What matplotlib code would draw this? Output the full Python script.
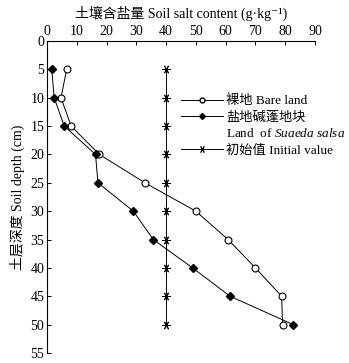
import matplotlib
matplotlib.use("Agg")
import matplotlib.pyplot as plt
from matplotlib.lines import Line2D

plt.rcParams['font.family'] = ['Liberation Serif', 'Noto Sans CJK SC', 'DejaVu Serif']
plt.rcParams['mathtext.fontset'] = 'custom'
plt.rcParams['mathtext.rm'] = 'Liberation Serif'
plt.rcParams['mathtext.it'] = 'Liberation Serif:italic'

depth = [5, 10, 15, 20, 25, 30, 35, 40, 45, 50]
bare_land = [6.6, 4.7, 8.1, 17.6, 32.9, 50.0, 60.8, 70.0, 78.8, 79.1]
suaeda = [1.6, 2.4, 5.8, 16.3, 17.1, 29.0, 35.7, 48.9, 61.5, 82.7]
initial = [40, 40, 40, 40, 40, 40, 40, 40, 40, 40]
xticks = [0, 10, 20, 30, 40, 50, 60, 70, 80, 90]
yticks = [0, 5, 10, 15, 20, 25, 30, 35, 40, 45, 50, 55]

fig = plt.figure(figsize=(3.49, 3.63), dpi=100)
ax = fig.add_axes([47/349, 1-353/363, 268/349, 312/363])

lw = 0.7
ax.plot(initial, depth, color='black', lw=lw, marker=(6, 2, 90), ms=6, mew=0.7)
ax.plot(bare_land, depth, color='black', lw=lw, marker='o', ms=5, mfc='white', mec='black', mew=0.8)
ax.plot(suaeda, depth, color='black', lw=lw, marker='D', ms=4.3, mfc='black', mec='black')

ax.set_xlim(0, 90)
ax.set_ylim(55, 0)
ax.set_xticks(xticks)
ax.set_yticks(yticks)
ax.xaxis.tick_top()
ax.xaxis.set_label_position('top')
ax.tick_params(direction='in', length=3, width=0.7, labelsize=10, pad=2)
for s in ['right', 'bottom']:
    ax.spines[s].set_visible(False)
for s in ['top', 'left']:
    ax.spines[s].set_linewidth(0.8)

ax.set_xlabel('土壤含盐量 Soil salt content (g·kg⁻¹)', fontsize=10, labelpad=5)
ax.set_ylabel('土层深度 Soil depth (cm)', fontsize=10, labelpad=4)

handles = [
    Line2D([], [], color='black', lw=lw, marker='o', ms=3.5, mfc='white', mec='black'),
    Line2D([], [], color='black', lw=lw, marker='D', ms=3, mfc='black'),
    Line2D([], [], linestyle='none'),
    Line2D([], [], color='black', lw=lw, marker=(6, 2, 90), ms=5, mew=0.7),
]
labels = ['裸地 Bare land', '盐地碱蓬地块', 'Land  of $\\it{Suaeda\\ salsa}$', '初始值 Initial value']
leg = ax.legend(handles, labels, loc='upper left', bbox_to_anchor=(0.48, 0.845),
                frameon=False, fontsize=9.5, handlelength=3.2, handletextpad=0.2,
                labelspacing=0.3, borderaxespad=0)

fig.savefig('out.png', dpi=100)
